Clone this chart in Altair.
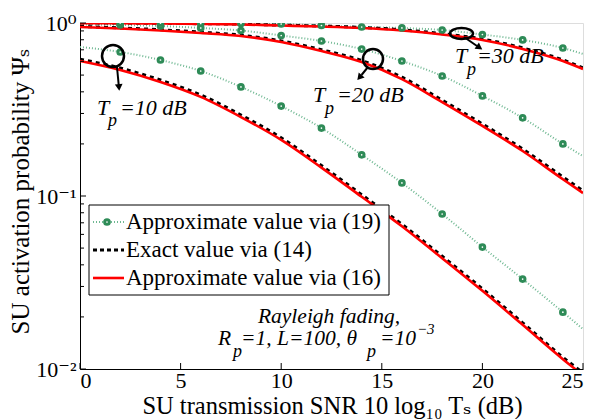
import altair as alt
import pandas as pd

# ---------------- data ----------------
snr_db = [0, 2, 4, 6, 8, 10, 12, 14, 16, 18, 20, 22, 24, 25]
tp_values = ["10", "20", "30"]

# Approximate value via (16) (red solid)
approx16 = {
    "10": [0.603, 0.535, 0.456, 0.374, 0.286, 0.211, 0.146, 0.099, 0.0668, 0.0437, 0.0283, 0.0180, 0.0114, 0.0092],
    "20": [0.948, 0.929, 0.905, 0.875, 0.841, 0.777, 0.689, 0.595, 0.474, 0.349, 0.254, 0.182, 0.125, 0.104],
    "30": [0.999, 0.997, 0.993, 0.987, 0.981, 0.967, 0.954, 0.936, 0.905, 0.858, 0.798, 0.708, 0.603, 0.542],
}
# Exact value via (14) (black dashed)
exact14 = {
    "10": [0.618, 0.549, 0.468, 0.384, 0.294, 0.217, 0.150, 0.1018, 0.0687, 0.0449, 0.0291, 0.0185, 0.0117, 0.0095],
    "20": [0.955, 0.937, 0.914, 0.885, 0.851, 0.788, 0.701, 0.607, 0.486, 0.358, 0.261, 0.187, 0.129, 0.107],
    "30": [1.0, 0.999, 0.996, 0.991, 0.985, 0.972, 0.960, 0.943, 0.913, 0.868, 0.808, 0.718, 0.612, 0.551],
}
# Approximate value via (19) (green dotted with markers)
approx19 = {
    "10": [0.727, 0.680, 0.611, 0.528, 0.427, 0.331, 0.247, 0.173, 0.119, 0.0787, 0.0507, 0.0331, 0.0213, 0.0170],
    "20": [0.980, 0.974, 0.961, 0.936, 0.905, 0.847, 0.787, 0.707, 0.603, 0.494, 0.379, 0.283, 0.200, 0.170],
    "30": [1.0, 1.0, 0.999, 0.994, 0.993, 0.987, 0.967, 0.948, 0.936, 0.911, 0.858, 0.798, 0.717, 0.662],
}

x_ticks = [0, 5, 10, 15, 20, 25]
y_major = [0.01, 0.1, 1.0]
y_minor = [0.02, 0.03, 0.04, 0.05, 0.06, 0.07, 0.08, 0.09,
           0.2, 0.3, 0.4, 0.5, 0.6, 0.7, 0.8, 0.9]
legend_labels = ["Approximate value via (19)", "Exact value via (14)", "Approximate value via (16)"]

rows = []
for tp in tp_values:
    for kind, src in (("a16", approx16), ("ex", exact14), ("a19", approx19)):
        for x, v in zip(snr_db, src[tp]):
            rows.append({"x": x, "y": v, "tp": tp, "kind": kind})
df = pd.DataFrame(rows)

# ---------------- styling ----------------
W, H = 503, 346
FONT = "Times New Roman, Liberation Serif, DejaVu Serif, serif"
GREEN = "#2e8b57"
GREEN_LIGHT = "#6fb892"

xs = alt.Scale(domain=[0, 25], nice=False, zero=False)
ys = alt.Scale(type="log", domain=[0.01, 1], nice=False)

x_axis = alt.Axis(
    values=x_ticks, ticks=False, grid=False, labelFont=FONT, labelFontSize=22,
    labelColor="black", labelPadding=1, domainColor="black", domainWidth=1,
    title="SU transmission SNR 10 log\u2081\u2080 T\u209b (dB)", titleFont=FONT,
    titleFontSize=24.5, titleFontWeight="normal", titleColor="black",
    titleBaseline="alphabetic", titleY=44, titleX=252, titleAlign="center",
)
y_axis = alt.Axis(
    values=y_major, ticks=False, grid=False, labelFont=FONT, labelFontSize=22,
    labelColor="black", labelPadding=4, domainColor="black", domainWidth=1,
    labelExpr="datum.value > 0.5 ? '10\u2070' : (datum.value > 0.05 ? '10\u207b\u00b9' : '10\u207b\u00b2')",
    title="SU activation probability \u03a8\u209b", titleFont=FONT, titleFontSize=25,
    titleFontWeight="normal", titleColor="black", titleBaseline="alphabetic",
    titleX=-52, titleY=168, titleAlign="center", titleAngle=270,
)


def X(field="x"):
    return alt.X(f"{field}:Q", scale=xs, axis=x_axis)


def Y(field="y"):
    return alt.Y(f"{field}:Q", scale=ys, axis=y_axis)


base = alt.Chart(df)

green_line = base.transform_filter(alt.datum.kind == "a19").mark_line(
    clip=True, color=GREEN_LIGHT, strokeWidth=2, strokeDash=[1, 2], interpolate="monotone"
).encode(x=X(), y=Y(), detail="tp:N")

black_line = base.transform_filter(alt.datum.kind == "ex").mark_line(
    clip=True, color="black", strokeWidth=3, strokeDash=[4, 4], interpolate="monotone"
).encode(x=X(), y=Y(), detail="tp:N")

red_line = base.transform_filter(alt.datum.kind == "a16").mark_line(
    clip=True, color="#ff0000", strokeWidth=2.6, interpolate="monotone"
).encode(x=X(), y=Y(), detail="tp:N")

markers = base.transform_filter(
    (alt.datum.kind == "a19") & (alt.datum.x > 0) & (alt.datum.x < 25)
).mark_point(
    clip=True, shape="circle", size=22, filled=False, fill="white", fillOpacity=1,
    stroke=GREEN, strokeWidth=3, opacity=1
).encode(x=X(), y=Y())

# inward tick marks
xt = alt.Chart(pd.DataFrame({"t": x_ticks})).mark_rule(color="black", strokeWidth=1).encode(
    x=X("t"), y=alt.value(H), y2=alt.value(H - 6))
ytM = alt.Chart(pd.DataFrame({"t": y_major})).mark_rule(color="black", strokeWidth=1).encode(
    y=Y("t"), x=alt.value(0), x2=alt.value(6))
ytm = alt.Chart(pd.DataFrame({"t": y_minor})).mark_rule(color="black", strokeWidth=1).encode(
    y=Y("t"), x=alt.value(0), x2=alt.value(4))

one = pd.DataFrame({"a": [0]})


def txt(s, x, y, size=22, italic=True, align="left", baseline="alphabetic"):
    return alt.Chart(one).mark_text(
        text=s, font=FONT, fontSize=size, fontStyle="italic" if italic else "normal",
        align=align, baseline=baseline, color="black"
    ).encode(x=alt.value(x), y=alt.value(y))


def seg(x1, y1, x2, y2, **kw):
    return alt.Chart(one).mark_rule(**kw).encode(
        x=alt.value(x1), y=alt.value(y1), x2=alt.value(x2), y2=alt.value(y2))


def pt(x, y, **kw):
    return alt.Chart(one).mark_point(**kw).encode(x=alt.value(x), y=alt.value(y))


ELLIPSE = "M-1,0A1,0.48,0,1,1,1,0A1,0.48,0,1,1,-1,0Z"

annotations = [
    # Tp = 10 dB
    pt(33, 33, shape="circle", size=484, filled=False, color="black", strokeWidth=2.5, opacity=1),
    seg(37, 44, 38.7, 62, color="black", strokeWidth=2),
    pt(39, 64.5, shape="triangle-up", size=60, filled=True, color="black", opacity=1, angle=175),
    txt("T", 17, 92), txt("p", 28, 103, size=18), txt("=10 dB", 40, 92),
    # Tp = 20 dB
    pt(293, 36, shape="circle", size=400, filled=False, color="black", strokeWidth=2.5, opacity=1),
    seg(288, 44, 281.5, 52, color="black", strokeWidth=2),
    pt(279.5, 54.5, shape="triangle-up", size=60, filled=True, color="black", opacity=1, angle=220),
    txt("T", 233, 79), txt("p", 245, 91, size=18), txt("=20 dB", 257, 79),
    # Tp = 30 dB
    pt(381.5, 10.5, shape=ELLIPSE, size=529, filled=False, color="black", strokeWidth=2.5, opacity=1),
    seg(384, 14, 397, 23, color="black", strokeWidth=2),
    pt(399.5, 24.5, shape="triangle-up", size=60, filled=True, color="black", opacity=1, angle=124),
    txt("T", 375, 40), txt("p", 387, 52, size=18), txt("=30 dB", 397, 40),
    # conditions
    txt("Rayleigh fading,", 249, 300, size=21.5, align="center"),
    txt("R", 138, 322, size=21.5), txt("p", 153, 334, size=18),
    txt("=1, L=100, \u03b8", 161, 322, size=21.5),
    txt("p", 287, 334, size=18), txt("=10", 300, 322, size=21.5), txt("\u22123", 337, 311, size=15),
]

# legend (drawn as decoration)
LX0, LX1 = 13, 44
rows_y = [199, 227, 255]
legend = [
    alt.Chart(one).mark_rect(fill="white", stroke="black", strokeWidth=1).encode(
        x=alt.value(9), x2=alt.value(309), y=alt.value(182), y2=alt.value(272)),
    seg(LX0, rows_y[0], LX1, rows_y[0], color=GREEN_LIGHT, strokeWidth=2, strokeDash=[1, 2]),
    pt(27, rows_y[0], shape="circle", size=22, filled=False, fill="white", fillOpacity=1,
       stroke=GREEN, strokeWidth=3, opacity=1),
    seg(LX0, rows_y[1], LX1, rows_y[1], color="black", strokeWidth=3, strokeDash=[4, 3]),
    seg(LX0, rows_y[2], LX1, rows_y[2], color="#ff0000", strokeWidth=2.6),
]
for lab, yy in zip(legend_labels, rows_y):
    legend.append(txt(lab, 46, yy + 7, size=23, italic=False))

chart = alt.layer(
    green_line, black_line, red_line, markers, xt, ytM, ytm, *annotations, *legend
).properties(
    width=W, height=H,
    autosize=alt.AutoSizeParams(type="none"),
    padding={"left": 72, "top": 15, "right": 15, "bottom": 50},
).configure_view(stroke=None).configure(background="white")

chart.save("out.html", embed_options={"renderer": "svg", "actions": False})
